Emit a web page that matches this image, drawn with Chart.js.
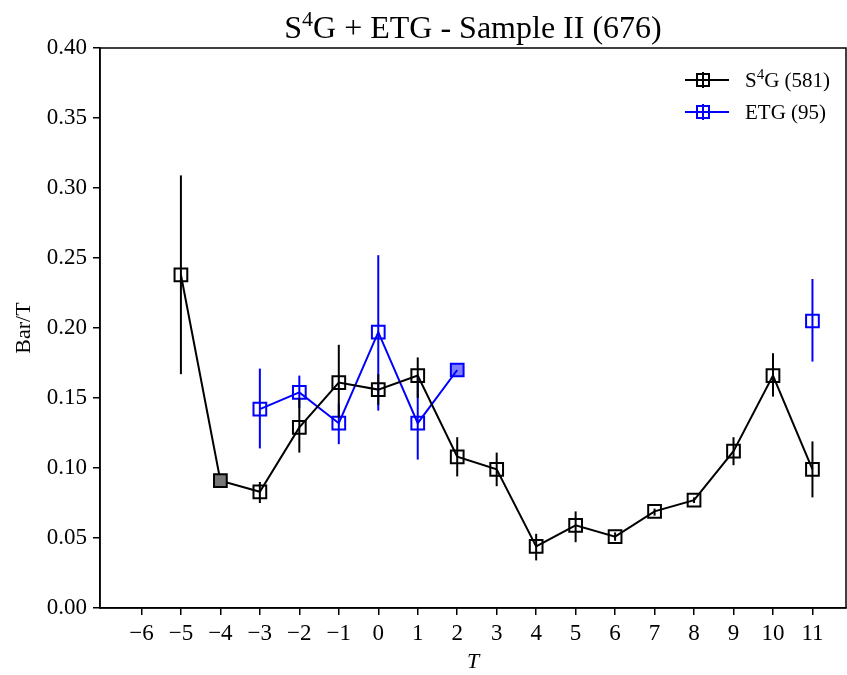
<!DOCTYPE html>
<html>
<head>
<meta charset="utf-8">
<script src="https://cdn.jsdelivr.net/npm/chart.js@4.4.0/dist/chart.umd.min.js"></script>
<style>
  html, body { margin: 0; padding: 0; background: #fff; }
  canvas { display: block; }
</style>
</head>
<body>
<canvas id="c" width="847" height="675"></canvas>
<script>
// ===============================
// DATA
// ===============================
const T = [-5, -4, -3, -2, -1, 0, 1, 2, 3, 4, 5, 6, 7, 8, 9, 10, 11];

const s4gBar = [0.238, 0.091, 0.083, 0.129, 0.161, 0.156, 0.166, 0.108, 0.099, 0.044, 0.059, 0.051, 0.069, 0.077, 0.112, 0.166, 0.099];
const s4gLo  = [0.167, 0.091, 0.075, 0.111, 0.136, 0.145, 0.150, 0.094, 0.087, 0.034, 0.047, 0.048, 0.066, 0.075, 0.102, 0.151, 0.079];
const s4gHi  = [0.309, 0.091, 0.090, 0.150, 0.188, 0.167, 0.179, 0.122, 0.111, 0.053, 0.069, 0.054, 0.071, 0.079, 0.122, 0.182, 0.119];

const etgBar = [null, null, 0.142, 0.154, 0.132, 0.197, 0.132, 0.170, null, null, null, null, null, null, null, null, 0.205];
const etgLo  = [null, null, 0.114, 0.143, 0.117, 0.141, 0.106, 0.170, null, null, null, null, null, null, null, null, 0.176];
const etgHi  = [null, null, 0.171, 0.166, 0.146, 0.252, 0.165, 0.170, null, null, null, null, null, null, null, null, 0.235];

const xTicks = [-6, -5, -4, -3, -2, -1, 0, 1, 2, 3, 4, 5, 6, 7, 8, 9, 10, 11];
const yTicks = [0, 0.05, 0.10, 0.15, 0.20, 0.25, 0.30, 0.35, 0.40];

const seriesNames = ["S4G (581)", "ETG (95)"];
const errLo = [s4gLo, etgLo];
const errHi = [s4gHi, etgHi];

const FONT = "'Liberation Serif', 'DejaVu Serif', serif";

// ===============================
// PLUGINS
// ===============================
const errorBars = {
  id: "errorBars",
  beforeDatasetDraw(chart, args) {
    const ds = chart.data.datasets[args.index];
    const xs = chart.scales.x, ys = chart.scales.y;
    const ctx = chart.ctx;
    ctx.save();
    ctx.strokeStyle = ds.borderColor;
    ctx.lineWidth = 2;
    T.forEach((t, i) => {
      const lo = errLo[args.index][i], hi = errHi[args.index][i];
      if (lo == null || hi == null || lo === hi) return;
      const px = xs.getPixelForValue(t);
      ctx.beginPath();
      ctx.moveTo(px, ys.getPixelForValue(lo));
      ctx.lineTo(px, ys.getPixelForValue(hi));
      ctx.stroke();
    });
    ctx.restore();
  }
};

function drawSup(ctx, x, y, base, sup, rest, size) {
  // base + superscript + rest, left aligned at x
  ctx.font = size + "px " + FONT;
  ctx.fillText(base, x, y);
  x += ctx.measureText(base).width;
  ctx.font = Math.round(size * 0.7) + "px " + FONT;
  ctx.fillText(sup, x, y - size * 0.38);
  x += ctx.measureText(sup).width;
  ctx.font = size + "px " + FONT;
  ctx.fillText(rest, x, y);
}

function supWidth(ctx, base, sup, rest, size) {
  ctx.font = size + "px " + FONT;
  let w = ctx.measureText(base).width + ctx.measureText(rest).width;
  ctx.font = Math.round(size * 0.7) + "px " + FONT;
  return w + ctx.measureText(sup).width;
}

const decorations = {
  id: "decorations",
  afterDraw(chart) {
    const ctx = chart.ctx;
    const a = chart.chartArea;
    ctx.save();

    // frame
    ctx.strokeStyle = "#000";
    ctx.lineWidth = 1.5;
    ctx.strokeRect(a.left, a.top, a.right - a.left, a.bottom - a.top);

    ctx.fillStyle = "#000";
    ctx.textBaseline = "alphabetic";

    // title
    const tsize = 32;
    const tw = supWidth(ctx, "S", "4", "G + ETG - Sample II (676)", tsize);
    drawSup(ctx, (a.left + a.right) / 2 - tw / 2, 38, "S", "4", "G + ETG - Sample II (676)", tsize);

    // axis titles
    ctx.font = "italic 22px " + FONT;
    ctx.textAlign = "center";
    ctx.fillText("T", (a.left + a.right) / 2, 668);
    ctx.save();
    ctx.translate(30, (a.top + a.bottom) / 2);
    ctx.rotate(-Math.PI / 2);
    ctx.font = "22px " + FONT;
    ctx.fillText("Bar/T", 0, 0);
    ctx.restore();

    // legend
    ctx.textAlign = "left";
    const rows = [
      { color: "#000", y: 80, label: ["S", "4", "G (581)"] },
      { color: "#0000ff", y: 112, label: ["ETG (95)", "", ""] }
    ];
    rows.forEach(r => {
      ctx.strokeStyle = r.color;
      ctx.lineWidth = 2;
      ctx.beginPath();
      ctx.moveTo(685, r.y); ctx.lineTo(729, r.y);
      ctx.moveTo(703, r.y - 8); ctx.lineTo(703, r.y + 8);
      ctx.stroke();
      ctx.strokeRect(697, r.y - 6, 12, 12);
      ctx.fillStyle = "#000";
      drawSup(ctx, 745, r.y + 7, r.label[0], r.label[1], r.label[2], 21);
    });
    ctx.restore();
  }
};

// ===============================
// CHART
// ===============================
const pts = arr => T.map((t, i) => ({ x: t, y: arr[i] }));

new Chart(document.getElementById("c"), {
  type: "line",
  data: {
    datasets: [
      {
        label: seriesNames[0],
        data: pts(s4gBar),
        borderColor: "#000",
        borderWidth: 2,
        pointStyle: "rect",
        pointRadius: 9,
        pointBorderWidth: 2,
        pointBorderColor: "#000",
        pointBackgroundColor: ctx => (ctx.dataIndex === 1 ? "#777777" : "rgba(0,0,0,0)"),
        tension: 0,
        spanGaps: false
      },
      {
        label: seriesNames[1],
        data: pts(etgBar),
        borderColor: "#0000ff",
        borderWidth: 2,
        pointStyle: "rect",
        pointRadius: 9,
        pointBorderWidth: 2,
        pointBorderColor: "#0000ff",
        pointBackgroundColor: ctx => (ctx.dataIndex === 7 ? "rgba(0,0,255,0.5)" : "rgba(0,0,0,0)"),
        tension: 0,
        spanGaps: false
      }
    ]
  },
  options: {
    responsive: false,
    animation: false,
    layout: { autoPadding: false, padding: { top: 48, right: 1, left: 0, bottom: 0 } },
    plugins: {
      legend: { display: false },
      title: { display: false },
      tooltip: { enabled: false }
    },
    scales: {
      x: {
        type: "linear",
        min: -7.05,
        max: 11.85,
        afterBuildTicks: s => { s.ticks = xTicks.map(v => ({ value: v })); },
        afterFit: s => { s.height = 67; s.paddingRight = 0; s.paddingLeft = 0; },
        grid: { drawOnChartArea: false, drawTicks: true, tickLength: 7, color: "#000", lineWidth: 1.5 },
        border: { display: true, color: "#000", width: 1.5 },
        ticks: {
          color: "#000",
          font: { family: FONT, size: 23 },
          padding: 5,
          maxRotation: 0,
          autoSkip: false,
          callback: v => String(v).replace("-", "\u2212")
        }
      },
      y: {
        min: 0,
        max: 0.4,
        afterBuildTicks: s => { s.ticks = yTicks.map(v => ({ value: v })); },
        afterFit: s => { s.width = 100; s.paddingTop = 0; s.paddingBottom = 0; },
        grid: { drawOnChartArea: false, drawTicks: true, tickLength: 7, color: "#000", lineWidth: 1.5 },
        border: { display: true, color: "#000", width: 1.5 },
        ticks: {
          color: "#000",
          font: { family: FONT, size: 23 },
          padding: 6,
          callback: v => v.toFixed(2)
        }
      }
    }
  },
  plugins: [errorBars, decorations]
});
</script>
</body>
</html>
